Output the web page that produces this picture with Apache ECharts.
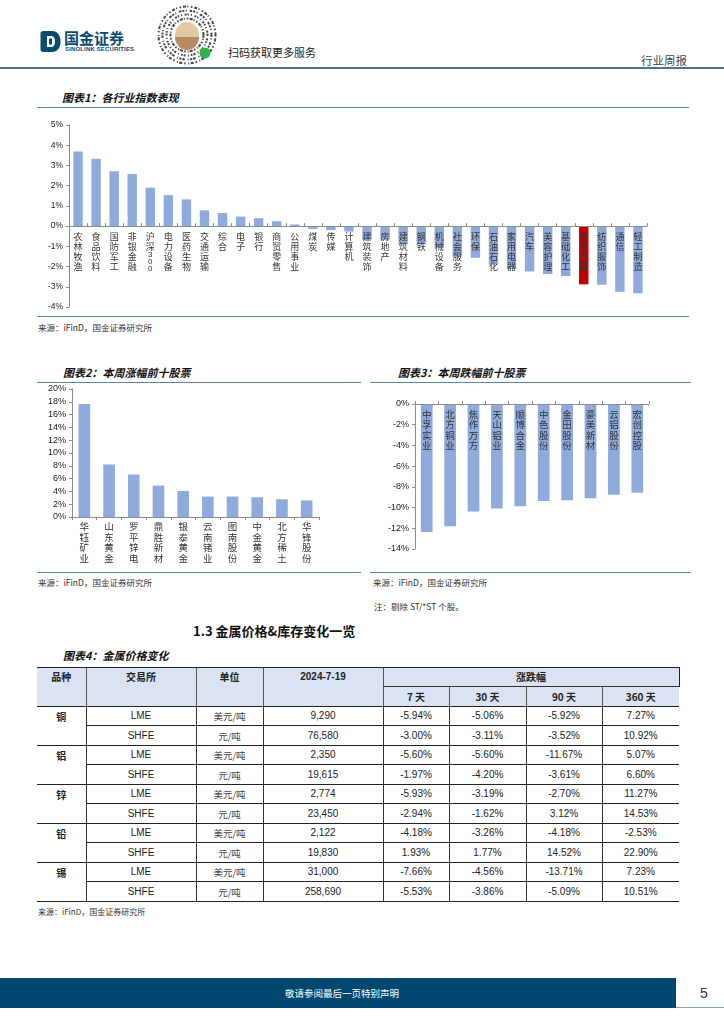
<!DOCTYPE html>
<html>
<head>
<meta charset="utf-8">
<script src="https://cdn.jsdelivr.net/npm/echarts@6/dist/echarts.min.js"></script>
<style>
html,body{margin:0;padding:0;background:#fff;}
body{width:724px;height:1024px;position:relative;overflow:hidden;font-family:"Noto Sans CJK SC","Liberation Sans",sans-serif;color:#222;}
.abs{position:absolute;white-space:nowrap;}
.ttl{font-size:11px;font-weight:bold;font-style:italic;height:14px;line-height:14px;color:#111;}
.rule{position:absolute;height:0;border-top:1.5px solid #5a86a9;}
.src{font-size:8.5px;height:12px;line-height:12px;color:#333;}
#tbl{position:absolute;left:37px;top:667px;border-collapse:collapse;table-layout:fixed;width:642px;font-size:10px;color:#222;}
#tbl th,#tbl td{padding:0;text-align:center;white-space:nowrap;overflow:hidden;}
#tbl thead th{background:#dbe3f2;font-weight:bold;height:18.4px;line-height:18px;border-left:1px solid #555;}
#tbl thead tr:first-child th{border-top:1.5px solid #222;}
#tbl thead th.first{border-left:none;}
#tbl thead th.tall{vertical-align:top;line-height:18px;border-bottom:1.5px solid #222;}
#tbl thead th.grp{border-right:1.5px solid #222;border-bottom:1px solid #333;}
#tbl thead tr.r2 th{border-bottom:1.5px solid #222;}
#tbl tbody td{height:18.5px;line-height:18px;border-top:1px solid #222;border-left:1px solid #333;font-family:"Liberation Sans","Noto Sans CJK SC",sans-serif;}
#tbl tbody td.metal{border-left:none;vertical-align:top;font-weight:bold;font-family:"Noto Sans CJK SC",sans-serif;line-height:19px;border-top:1.5px solid #222;}
#tbl tbody td.unit{font-family:"Noto Sans CJK SC",sans-serif;color:#444;font-size:9.5px;}
#tbl tbody tr.grpstart td{border-top:1.5px solid #222;}
#tbl tbody tr:last-child td, #tbl tbody td.lastmetal{border-bottom:1.5px solid #222;}
</style>
</head>
<body>
<script>
// ===== DATA =====
const industryNames = ['农林牧渔','食品饮料','国防军工','非银金融','沪深300','电力设备','医药生物','交通运输','综合','电子','银行','商贸零售','公用事业','煤炭','传媒','计算机','建筑装饰','房地产','建筑材料','钢铁','机械设备','社会服务','环保','石油石化','家用电器','汽车','美容护理','基础化工','有色金属','纺织服饰','通信','轻工制造'];
const industryValues = [3.69,3.33,2.71,2.58,1.90,1.53,1.32,0.78,0.65,0.47,0.39,0.24,0.08,-0.14,-0.20,-0.27,-0.68,-0.68,-0.90,-0.90,-1.05,-1.50,-1.57,-1.90,-2.10,-2.24,-2.37,-2.47,-2.88,-2.90,-3.25,-3.32];
const highlightName = '有色金属';
const industryTicks = [-4,5,1];

const gainNames = ['华钰矿业','山东黄金','罗平锌电','鼎胜新材','银泰黄金','云南锗业','图南股份','中金黄金','北方稀土','华锋股份'];
const gainValues = [17.65,8.20,6.64,4.90,4.07,3.19,3.19,3.08,2.77,2.60];
const gainTicks = [0,20,2];

const lossNames = ['中孚实业','北方铜业','焦作万方','天山铝业','顺博合金','中色股份','金田股份','豪美新材','云铝股份','宏创控股'];
const lossValues = [-12.36,-11.80,-10.37,-10.08,-9.88,-9.36,-9.30,-9.10,-8.75,-8.56];
const lossTicks = [-14,0,2];

const tblHeader = ['品种','交易所','单位','2024-7-19','涨跌幅'];
const tblPeriods = ['7 天','30 天','90 天','360 天'];
const metals = ['铜','铝','锌','铅','锡'];
const exchanges = ['LME','SHFE'];
const units = ['美元/吨','元/吨'];
const prices = ['9,290','76,580','2,350','19,615','2,774','23,450','2,122','19,830','31,000','258,690'];
const chg7 = ['-5.94%','-3.00%','-5.60%','-1.97%','-5.93%','-2.94%','-4.18%','1.93%','-7.66%','-5.53%'];
const chg30 = ['-5.06%','-3.11%','-5.60%','-4.20%','-3.19%','-1.62%','-3.26%','1.77%','-4.56%','-3.86%'];
const chg90 = ['-5.92%','-3.52%','-11.67%','-3.61%','-2.70%','3.12%','-4.18%','14.52%','-13.71%','-5.09%'];
const chg360 = ['7.27%','10.92%','5.07%','6.60%','11.27%','14.53%','-2.53%','22.90%','7.23%','10.51%'];
</script>

<!-- Header -->
<svg class="abs" style="left:40px;top:30px" width="21" height="23" viewBox="0 0 21 23">
  <path d="M3 1 H12 C17.5 1 20.5 5.5 20.5 11.5 C20.5 17.5 17.5 22 12 22 H3 C1.6 22 0.5 20.9 0.5 19.5 V3.5 C0.5 2.1 1.6 1 3 1 Z" fill="#0d4a72"/>
  <path d="M7 6 H11.5 C13.6 6 15 8.4 15 11.5 C15 14.6 13.6 17 11.5 17 H7 Z" fill="#fff"/>
  <rect x="9" y="8.5" width="3" height="6" fill="#0d4a72"/>
</svg>
<div class="abs" style="left:64px;top:30px;font-size:15px;font-weight:bold;color:#0d4a72;line-height:16px;">国金证券</div>
<div class="abs" style="left:65px;top:46px;font-size:6px;font-weight:bold;color:#0d4a72;line-height:7px;font-family:'Liberation Sans',sans-serif;letter-spacing:0.15px;">SINOLINK SECURITIES</div>

<svg class="abs" style="left:155px;top:4px" width="64" height="62" viewBox="0 0 64 62">
  <g fill="none" stroke="#444">
    <circle cx="32" cy="31" r="28.5" stroke-width="2" stroke-dasharray="1.5 2 3 1.5 1 2.5"/>
    <circle cx="32" cy="31" r="24.5" stroke-width="2" stroke-dasharray="2 1.5 1 3 2.5 1"/>
    <circle cx="32" cy="31" r="20.5" stroke-width="2" stroke-dasharray="1 2.5 2 1 1.5 2"/>
    <circle cx="32" cy="31" r="16.5" stroke-width="2" stroke-dasharray="3 1 1 2 1.5 1.5"/>
  </g>
  <ellipse cx="32" cy="31" rx="12" ry="13" fill="#e3c8a4"/>
  <path d="M20 33 H44 A12 13 0 0 1 20 33 Z" fill="#b88c63"/>
  <circle cx="50" cy="49" r="5.5" fill="#2fb34f"/>
</svg>
<div class="abs" style="left:228px;top:46px;font-size:11px;line-height:13px;color:#222;">扫码获取更多服务</div>
<div class="abs" style="left:641px;top:53px;font-size:11.5px;line-height:14px;color:#444;">行业周报</div>
<div class="abs" style="left:0;top:67px;width:724px;height:0;border-top:2px solid #4a7394;"></div>

<!-- Chart 1 -->
<div class="abs ttl" style="left:62px;top:90px;">图表1：各行业指数表现</div>
<div class="rule" style="left:37px;top:107px;width:652px;"></div>
<div id="c1" class="abs" style="left:0;top:110px;width:724px;height:205px;"></div>
<div class="rule" style="left:37px;top:316px;width:652px;"></div>
<div class="abs src" style="left:38px;top:321px;">来源：iFinD，国金证券研究所</div>

<!-- Chart 2 & 3 -->
<div class="abs ttl" style="left:63px;top:365px;">图表2：本周涨幅前十股票</div>
<div class="rule" style="left:37px;top:382px;width:324px;"></div>
<div id="c2" class="abs" style="left:0;top:385px;width:365px;height:185px;"></div>
<div class="rule" style="left:37px;top:572px;width:324px;"></div>
<div class="abs src" style="left:38px;top:576px;">来源：iFinD，国金证券研究所</div>

<div class="abs ttl" style="left:398px;top:365px;">图表3：本周跌幅前十股票</div>
<div class="rule" style="left:370px;top:382px;width:321px;"></div>
<div id="c3" class="abs" style="left:365px;top:385px;width:359px;height:185px;"></div>
<div class="rule" style="left:370px;top:572px;width:321px;"></div>
<div class="abs src" style="left:373px;top:576px;">来源：iFinD，国金证券研究所</div>
<div class="abs src" style="left:374px;top:600px;">注：剔除 ST/*ST 个股。</div>

<!-- Section 1.3 -->
<div class="abs" style="left:193px;top:623px;font-size:13px;line-height:16px;font-weight:600;color:#111;">1.3 金属价格&amp;库存变化一览</div>
<div class="abs ttl" style="left:63px;top:648px;">图表4：金属价格变化</div>
<table id="tbl"></table>
<div class="abs src" style="left:38px;top:906px;font-size:8px;">来源：iFinD，国金证券研究所</div>

<!-- Footer -->
<div class="abs" style="left:0;top:978px;width:676px;height:30px;background:#00486f;"></div>
<div class="abs" style="left:285px;top:987px;font-size:9.5px;line-height:12px;color:#fff;">敬请参阅最后一页特别声明</div>
<div class="abs" style="left:676px;top:1007px;width:48px;height:0;border-top:1px solid #7fa3c0;"></div>
<div class="abs" style="left:700px;top:985px;font-size:14px;line-height:16px;color:#333;font-family:'Liberation Sans',sans-serif;">5</div>

<script>
// ===== TABLE =====
(function(){
  const t = document.getElementById('tbl');
  const widths = [49,110,67,120,66,77,76,77];
  let h = '<colgroup>' + widths.map(w=>'<col style="width:'+w+'px">').join('') + '</colgroup>';
  h += '<thead><tr>';
  h += '<th rowspan="2" class="tall first">'+tblHeader[0]+'</th>';
  h += '<th rowspan="2" class="tall">'+tblHeader[1]+'</th>';
  h += '<th rowspan="2" class="tall">'+tblHeader[2]+'</th>';
  h += '<th rowspan="2" class="tall" style="font-family:\'Liberation Sans\',sans-serif;">'+tblHeader[3]+'</th>';
  h += '<th colspan="4" class="grp">'+tblHeader[4]+'</th></tr>';
  h += '<tr class="r2">' + tblPeriods.map(p=>'<th>'+p+'</th>').join('') + '</tr></thead><tbody>';
  for (let i=0;i<prices.length;i++){
    const g = Math.floor(i/2), first = i%2===0;
    h += '<tr' + (first?' class="grpstart"':'') + '>';
    if (first) h += '<td rowspan="2" class="metal'+(g===metals.length-1?' lastmetal':'')+'">'+metals[g]+'</td>';
    h += '<td>'+exchanges[i%2]+'</td><td class="unit">'+units[i%2]+'</td><td>'+prices[i]+'</td>';
    h += '<td>'+chg7[i]+'</td><td>'+chg30[i]+'</td><td>'+chg90[i]+'</td><td>'+chg360[i]+'</td></tr>';
  }
  h += '</tbody>';
  t.innerHTML = h;
})();

// ===== CHARTS =====
const AX = '#8c8c8c', BAR = '#8faadc', RED = '#c00000';
function vert(v){
  const parts = v.match(/\d|[^\d]/g);
  return parts.map(c => /\d/.test(c) ? '{n|'+c+'}' : c).join('\n');
}
// category axis placed at the value-axis zero line (offset from grid bottom), drawn above bars
function catAxis(names, ticks, gridH, opt){
  const zeroOffset = -gridH * (0 - ticks[0]) / (ticks[1] - ticks[0]);
  return {
    type:'category', data:names, position:'bottom', offset:zeroOffset, z:10,
    axisLine:{onZero:false, lineStyle:{color:AX, width:1}},
    axisTick:{show:true, inside:opt.tickInside, length:3, lineStyle:{color:AX}},
    axisLabel:{interval:0, margin:opt.margin, fontSize:opt.fs, lineHeight:opt.lh, color:'#333',
      fontFamily:'Noto Sans CJK SC', formatter:vert,
      rich:{n:{fontSize:8, lineHeight:7, color:'#333', fontFamily:'Liberation Sans'}}}
  };
}
function valAxis(t, fs){
  return {
    type:'value', min:t[0], max:t[1], interval:t[2],
    splitLine:{show:false},
    axisLine:{show:true, lineStyle:{color:AX}},
    axisTick:{show:true, length:3, lineStyle:{color:AX}},
    axisLabel:{formatter:'{value}%', fontSize:fs, color:'#222', margin:6, fontFamily:'Liberation Sans'}
  };
}

const G1 = {left:69, top:15, width:578, height:182};
const c1 = echarts.init(document.getElementById('c1'));
c1.setOption({
  animation:false,
  grid:Object.assign({containLabel:false, outerBoundsMode:'none'}, G1),
  xAxis:catAxis(industryNames, industryTicks, G1.height, {tickInside:true, margin:5, fs:9, lh:10}),
  yAxis:valAxis(industryTicks, 8.5),
  series:[{type:'bar', barWidth:'52%', z:2,
    data:industryValues.map((v,i)=>({value:v, itemStyle:{color: industryNames[i]===highlightName ? RED : BAR}}))}]
});

const G2 = {left:72, top:4, width:247, height:128};
const c2 = echarts.init(document.getElementById('c2'));
c2.setOption({
  animation:false,
  grid:Object.assign({containLabel:false, outerBoundsMode:'none'}, G2),
  xAxis:catAxis(gainNames, gainTicks, G2.height, {tickInside:false, margin:4, fs:9.5, lh:10.7}),
  yAxis:valAxis(gainTicks, 9),
  series:[{type:'bar', barWidth:'47%', z:2, itemStyle:{color:BAR}, data:gainValues}]
});

const G3 = {left:50, top:19, width:234, height:145};
const c3 = echarts.init(document.getElementById('c3'));
c3.setOption({
  animation:false,
  grid:Object.assign({containLabel:false, outerBoundsMode:'none'}, G3),
  xAxis:catAxis(lossNames, lossTicks, G3.height, {tickInside:true, margin:5, fs:9.5, lh:10.5}),
  yAxis:valAxis(lossTicks, 9),
  series:[{type:'bar', barWidth:'50%', z:2, itemStyle:{color:BAR}, data:lossValues}]
});
</script>
</body>
</html>
